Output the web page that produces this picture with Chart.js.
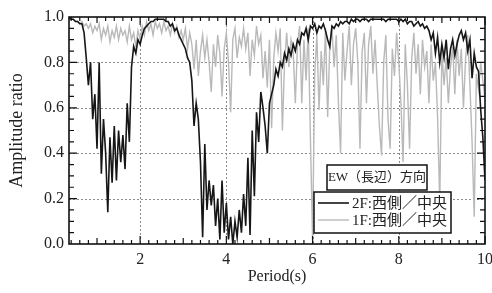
<!DOCTYPE html>
<html>
<head>
<meta charset="UTF-8"/>
<title>Amplitude ratio</title>
<script src="https://cdn.jsdelivr.net/npm/chart.js@4.4.0/dist/chart.umd.min.js"></script>
<style type="text/css">
    html, body { margin: 0; padding: 0; background: #fff; }
    #holder { width: 492px; height: 293px; }
</style>
<script type="text/javascript">
    // period grid: 0.35 .. 10.00 step 0.05
    var periodStart = 0.35;
    var periodStep = 0.05;

    var xTicks = [2, 4, 6, 8, 10];
    var yTicks = [0, 0.2, 0.4, 0.6, 0.8, 1.0];
    var legendTitle = "EW（長辺）方向";
    var seriesNames = ["2F:西側／中央", "1F:西側／中央"];

    // 2F
    var ratio2F = [
        1.00, 0.99, 0.99, 0.98, 0.98, 0.97, 0.97, 0.93, 0.82, 0.70,
        0.80, 0.55, 0.66, 0.42, 0.80, 0.31, 0.55, 0.40, 0.14, 0.47,
        0.27, 0.52, 0.28, 0.50, 0.36, 0.48, 0.33, 0.62, 0.45, 0.78,
        0.87, 0.84, 0.90, 0.88, 0.92, 0.95, 0.96, 0.97, 0.98, 0.98,
        0.99, 0.99, 0.99, 0.99, 0.99, 0.98, 0.98, 0.96, 0.97, 0.94,
        0.95, 0.92, 0.90, 0.88, 0.86, 0.82, 0.80, 0.72, 0.52, 0.62,
        0.55, 0.36, 0.03, 0.44, 0.15, 0.28, 0.17, 0.26, 0.08, 0.20,
        0.02, 0.28, 0.05, 0.18, 0.02, 0.12, 0.00, 0.10, 0.03, 0.15,
        0.05, 0.22, 0.08, 0.38, 0.04, 0.50, 0.21, 0.58, 0.45, 0.67,
        0.60, 0.52, 0.40, 0.62, 0.66, 0.70, 0.77, 0.74, 0.80, 0.78,
        0.84, 0.81, 0.86, 0.83, 0.88, 0.85, 0.90, 0.88, 0.93, 0.92,
        0.95, 0.90, 0.96, 0.95, 0.97, 0.93, 0.96, 0.95, 0.97, 0.94,
        0.90, 0.87, 0.96, 0.95, 0.97, 0.96, 0.98, 0.97, 0.98, 0.98,
        0.97, 0.99, 0.98, 0.99, 0.99, 0.98, 0.99, 0.99, 0.99, 0.98,
        0.99, 0.99, 0.99, 0.99, 0.99, 0.99, 0.99, 0.98, 0.99, 0.99,
        0.99, 0.99, 0.99, 0.98, 0.99, 0.98, 0.99, 0.97, 0.98, 0.98,
        0.96, 0.97, 0.98, 0.96, 0.97, 0.95, 0.96, 0.94, 0.90, 0.93,
        0.84, 0.91, 0.80, 0.88, 0.82, 0.90, 0.77, 0.86, 0.90, 0.83,
        0.88, 0.92, 0.94, 0.90, 0.93, 0.85, 0.90, 0.73, 0.84, 0.78,
        0.76, 0.59, 0.47, 0.28
    ];

    // 1F
    var ratio1F = [
        0.99, 0.99, 0.99, 0.98, 0.98, 0.97, 0.98, 0.96, 0.97, 0.95,
        0.97, 0.93, 0.96, 0.94, 0.97, 0.90, 0.95, 0.92, 0.96, 0.89,
        0.94, 0.91, 0.96, 0.90, 0.95, 0.92, 0.94, 0.89, 0.96, 0.90,
        0.93, 0.87, 0.94, 0.90, 0.96, 0.92, 0.98, 0.94, 0.97, 0.92,
        0.98, 0.95, 0.97, 0.93, 0.98, 0.94, 0.96, 0.92, 0.97, 0.93,
        0.96, 0.91, 0.94, 0.90, 0.95, 0.86, 0.93, 0.88, 0.77, 0.90,
        0.74, 0.85, 0.92, 0.82, 0.90, 0.80, 0.67, 0.88, 0.78, 0.92,
        0.84, 0.65, 0.86, 0.93, 0.80, 0.58, 0.90, 0.95, 0.82, 0.91,
        0.87, 0.95, 0.86, 0.93, 0.74, 0.90, 0.83, 0.96, 0.88, 0.92,
        0.73, 0.85, 0.69, 0.90, 0.51, 0.82, 0.93, 0.85, 0.95, 0.50,
        0.80, 0.93, 0.78, 0.90, 0.85, 0.62, 0.88, 0.96, 0.62, 0.90,
        0.72, 0.95, 0.47, 0.02, 0.75, 0.92, 0.59, 0.85, 0.70, 0.95,
        0.56, 0.88, 0.95, 0.78, 0.92, 0.62, 0.40, 0.93, 0.72, 0.85,
        0.96, 0.70, 0.88, 0.95, 0.80, 0.42, 0.85, 0.93, 0.62, 0.88,
        0.96, 0.75, 0.90, 0.70, 0.52, 0.39, 0.80, 0.92, 0.55, 0.42,
        0.86, 0.74, 0.93, 0.80, 0.62, 0.36, 0.88, 0.70, 0.42, 0.82,
        0.93, 0.75, 0.88, 0.66, 0.90, 0.78, 0.85, 0.62, 0.88, 0.72,
        0.80, 0.56, 0.18, 0.85, 0.70, 0.82, 0.62, 0.78, 0.87, 0.66,
        0.90, 0.74, 0.86, 0.60, 0.82, 0.92, 0.70, 0.45, 0.12, 0.75,
        0.68, 0.80, 0.72, 0.64
    ];

    var periods = [];
    for (var i = 0; i < ratio2F.length; i++) {
        periods.push(Math.round((periodStart + periodStep * i) * 100) / 100);
    }

    function toPoints(vals) {
        var pts = [];
        for (var i = 0; i < vals.length; i++) {
            pts.push({ x: periods[i], y: vals[i] });
        }
        return pts;
    }

    var fontFamily = '"Liberation Serif", "Noto Sans CJK JP", serif';

    /* dotted grid behind the lines */
    var gridPlugin = {
        id: 'dotGrid',
        beforeDatasetsDraw: function (chart) {
            var ctx = chart.ctx, a = chart.chartArea;
            var xs = chart.scales.x, ys = chart.scales.y;
            ctx.save();
            ctx.strokeStyle = '#8a8a8a';
            ctx.lineWidth = 1;
            ctx.setLineDash([2, 2]);
            ctx.beginPath();
            for (var i = 0; i < xTicks.length; i++) {
                if (xTicks[i] >= 10) continue;
                var px = Math.round(xs.getPixelForValue(xTicks[i])) + 0.5;
                ctx.moveTo(px, a.top); ctx.lineTo(px, a.bottom);
            }
            for (var j = 1; j < yTicks.length - 1; j++) {
                var py = Math.round(ys.getPixelForValue(yTicks[j])) + 0.5;
                ctx.moveTo(a.left, py); ctx.lineTo(a.right, py);
            }
            ctx.stroke();
            ctx.restore();
        }
    };

    /* frame, inward ticks and the boxed legend */
    var framePlugin = {
        id: 'frameLegend',
        afterDatasetsDraw: function (chart) {
            var ctx = chart.ctx, a = chart.chartArea;
            var xs = chart.scales.x, ys = chart.scales.y;
            ctx.save();
            ctx.strokeStyle = '#111';
            ctx.lineWidth = 1.2;
            ctx.beginPath();
            // x ticks every 0.2, longer at integers
            for (var k = 2; k <= 50; k++) {
                var v = k / 5;
                if (v < xs.min) continue;
                var len = 4;
                if (k % 10 == 0) len = 8;
                else if (k % 5 == 0) len = 6;
                var px = xs.getPixelForValue(v);
                ctx.moveTo(px, a.bottom); ctx.lineTo(px, a.bottom - len);
                ctx.moveTo(px, a.top); ctx.lineTo(px, a.top + len);
            }
            // y ticks every 0.05
            for (var m = 1; m < 20; m++) {
                var py = ys.getPixelForValue(m / 20);
                var l = (m % 4 == 0) ? 8 : 5;
                ctx.moveTo(a.left, py); ctx.lineTo(a.left + l, py);
                ctx.moveTo(a.right, py); ctx.lineTo(a.right - l, py);
            }
            ctx.stroke();
            ctx.lineWidth = 1.6;
            ctx.strokeRect(a.left, a.top, a.right - a.left, a.bottom - a.top);

            // legend title box
            var tx = a.right - 158, ty = a.bottom - 79;
            ctx.fillStyle = '#fff';
            ctx.fillRect(tx, ty, 100, 25);
            ctx.lineWidth = 1.5;
            ctx.strokeRect(tx, ty, 100, 25);
            ctx.fillStyle = '#222';
            ctx.font = '13px ' + fontFamily;
            ctx.textAlign = 'center';
            ctx.textBaseline = 'middle';
            ctx.fillText(legendTitle, tx + 50, ty + 13);

            // legend entries box
            var lx = a.right - 171, ly = a.bottom - 52;
            ctx.fillStyle = '#fff';
            ctx.fillRect(lx, ly, 137, 41);
            ctx.strokeRect(lx, ly, 137, 41);
            ctx.textAlign = 'left';
            ctx.font = '15px ' + fontFamily;
            var ds = chart.data.datasets;
            for (var d = 0; d < ds.length; d++) {
                var rowY = ly + 11 + d * 17;
                ctx.strokeStyle = ds[d].borderColor;
                ctx.lineWidth = ds[d].borderWidth;
                ctx.beginPath();
                ctx.moveTo(lx + 4, rowY); ctx.lineTo(lx + 35, rowY);
                ctx.stroke();
                ctx.fillStyle = '#222';
                ctx.fillText(ds[d].label, lx + 38, rowY + 1);
            }
            ctx.restore();
        }
    };

    window.onload = function () {
        var config = {
            type: 'line',
            data: {
                datasets: [{
                    label: seriesNames[0],
                    data: toPoints(ratio2F),
                    borderColor: '#161616',
                    borderWidth: 1.6,
                    pointRadius: 0,
                    tension: 0,
                    order: 1
                }, {
                    label: seriesNames[1],
                    data: toPoints(ratio1F),
                    borderColor: '#b9b9b9',
                    borderWidth: 1.4,
                    pointRadius: 0,
                    tension: 0,
                    order: 2
                }]
            },
            options: {
                responsive: false,
                animation: false,
                layout: { padding: { top: 17, right: 7, left: 0, bottom: 0 } },
                plugins: { legend: { display: false }, tooltip: { enabled: false } },
                scales: {
                    x: {
                        type: 'linear',
                        min: periodStart,
                        max: 10,
                        afterBuildTicks: function (scale) {
                            scale.ticks = xTicks.map(function (v) { return { value: v }; });
                        },
                        afterFit: function (scale) {
                            scale.height = 49;
                            scale.paddingLeft = 0;
                            scale.paddingRight = 0;
                        },
                        grid: { display: false, drawTicks: false },
                        border: { display: false },
                        ticks: {
                            padding: 6,
                            maxRotation: 0,
                            color: '#222',
                            font: { size: 16, family: fontFamily },
                            callback: function (v) { return String(v); }
                        },
                        title: {
                            display: true,
                            text: 'Period(s)',
                            color: '#222',
                            font: { size: 16, family: fontFamily },
                            padding: { top: 0, bottom: 7 }
                        }
                    },
                    y: {
                        min: 0,
                        max: 1,
                        afterBuildTicks: function (scale) {
                            scale.ticks = yTicks.map(function (v) { return { value: v }; });
                        },
                        afterFit: function (scale) {
                            scale.width = 69;
                            scale.paddingTop = 0;
                            scale.paddingBottom = 0;
                        },
                        grid: { display: false, drawTicks: false },
                        border: { display: false },
                        ticks: {
                            padding: 5,
                            color: '#222',
                            font: { size: 16, family: fontFamily },
                            callback: function (v) { return Number(v).toFixed(1); }
                        },
                        title: {
                            display: true,
                            text: 'Amplitude ratio',
                            color: '#222',
                            font: { size: 18, family: fontFamily },
                            padding: { top: 6, bottom: 0 }
                        }
                    }
                }
            },
            plugins: [gridPlugin, framePlugin]
        };
        var ctx = document.getElementById('chart-area').getContext('2d');
        window.myChart = new Chart(ctx, config);
    };
</script>
</head>
<body>
    <div id="holder">
        <canvas id="chart-area" width="492" height="293"></canvas>
    </div>
</body>
</html>
